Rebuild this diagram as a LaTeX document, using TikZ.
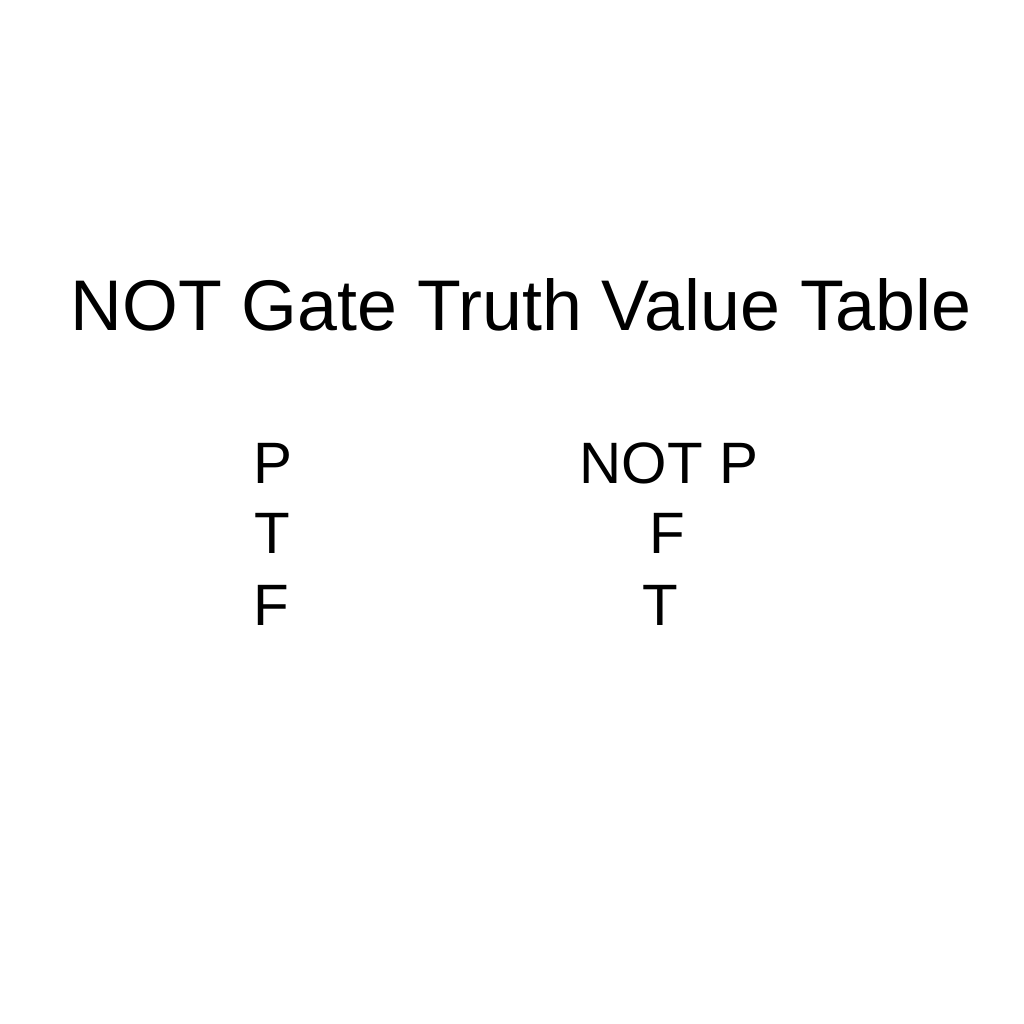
\documentclass[tikz,border=0pt]{standalone}
\usepackage{fontspec}
\setmainfont{Liberation Sans}
\usetikzlibrary{positioning}

\begin{document}
\begin{tikzpicture}
	[x=0.01cm, y=-0.01cm, inner sep=0pt,
	 title/.style = {font=\fontsize{20.4}{24}\selectfont},
	 cell/.style = {font=\fontsize{16.6}{20}\selectfont}]
	\useasboundingbox (0,0) rectangle (1024,1024);
	\node[title, anchor=base] (title) at (521,330) {NOT Gate Truth Value Table};
	\node[cell, anchor=base west] (1) at (253,483) {P};
	\node[cell, anchor=base west] (2) at (254,553) {T};
	\node[cell, anchor=base west] (3) at (253,625) {F};
	\node[cell, anchor=base west] (4) at (579,483) {NOT P};
	\node[cell, anchor=base west] (5) at (649,553) {F};
	\node[cell, anchor=base west] (6) at (642,625) {T};
\end{tikzpicture}
\end{document}
